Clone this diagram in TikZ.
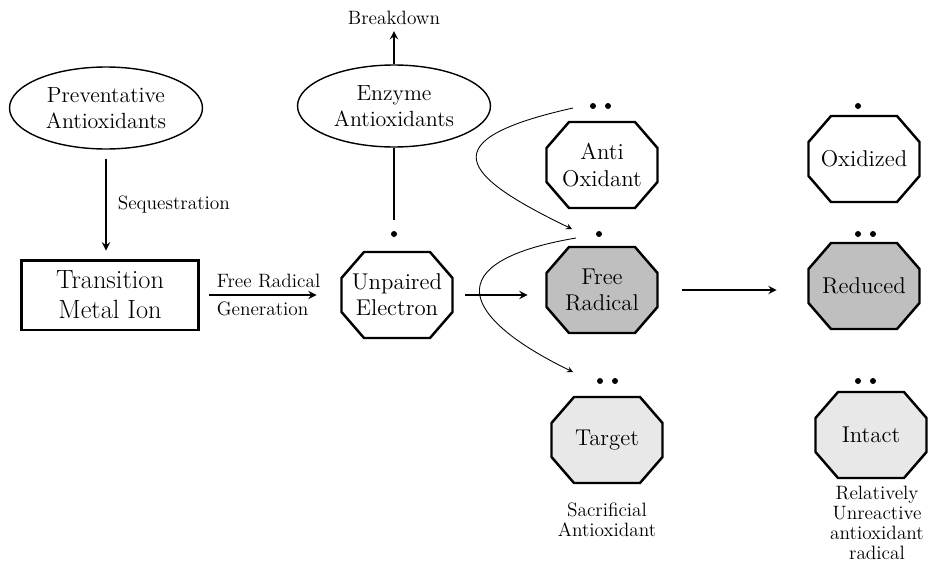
\documentclass[tikz,border=0pt]{standalone}
\usepackage{tikz}
\usetikzlibrary{positioning,arrows,shapes,calc}

\begin{document}
\begin{tikzpicture}[
    x=0.02cm, y=-0.02cm,
    >=stealth,
    oval/.style={ellipse, draw, thick, minimum width=3.86cm, minimum height=1.64cm, inner sep=0pt, align=center, font=\fontsize{12.5}{14.5}\selectfont},
    octa/.style={rectangle, inner sep=0pt, minimum width=2.32cm, minimum height=1.82cm, align=center, font=\fontsize{13}{15}\selectfont,
        path picture={
            \draw[line width=1.4pt, fill=#1]
                ([shift={(0.5cm,-0.05cm)}]path picture bounding box.north west) --
                ([shift={(-0.5cm,-0.05cm)}]path picture bounding box.north east) --
                ([shift={(-0.05cm,-0.57cm)}]path picture bounding box.north east) --
                ([shift={(-0.05cm,0.57cm)}]path picture bounding box.south east) --
                ([shift={(-0.5cm,0.05cm)}]path picture bounding box.south east) --
                ([shift={(0.5cm,0.05cm)}]path picture bounding box.south west) --
                ([shift={(0.05cm,0.57cm)}]path picture bounding box.south west) --
                ([shift={(0.05cm,-0.57cm)}]path picture bounding box.north west) -- cycle;
        }},
    octa/.default=white,
    dot/.style={circle, fill, inner sep=0pt, minimum size=0.12cm},
    lab/.style={font=\fontsize{11}{11.5}\selectfont, align=center},
    arr/.style={->, line width=1.1pt},
    swing/.style={->, line width=0.5pt}
]
    \useasboundingbox (0,0) rectangle (930,561);

    % Left column
    \node[oval] (prev) at (106,108) {Preventative\\Antioxidants};
    \node[draw, line width=1.7pt, minimum width=3.54cm, minimum height=1.4cm, align=center,
          font=\fontsize{15}{17}\selectfont] (tmi) at (110,295) {Transition\\Metal Ion};
    \draw[arr, shorten <=0.18cm, shorten >=0.16cm] (prev.south) -- (prev.south |- tmi.north)
        node[lab, midway, right=0.1cm] (seq) {Sequestration};

    % Enzyme branch
    \node[oval] (enz) at (394,106) {Enzyme\\Antioxidants};
    \node[lab] (brk) at (394,18) {Breakdown};
    \draw[arr] (enz.north) -- (brk.south);

    \node[octa] (ue) at (397,295) {Unpaired\\Electron};
    \node[dot] (ued) at (394,234) {};
    \draw[line width=1.1pt, shorten >=0.22cm] (enz.south) -- (ued.north);

    \draw[arr, shorten <=0.18cm, shorten >=0.44cm] (tmi.east) -- (ue.west)
        node[lab, pos=0, anchor=south west, xshift=0.2cm] (frg1) {Free Radical}
        node[lab, pos=0, anchor=north west, xshift=0.2cm] (frg2) {Generation};

    % Middle column
    \node[octa] (ao) at (602,165) {Anti\\Oxidant};
    \node[dot] (aod1) at (593,106) {};
    \node[dot] (aod2) at (608,106) {};

    \node[octa=black!25] (fr) at (602,290) {Free\\Radical};
    \node[dot] (frd) at (599,234) {};

    \node[octa=black!9] (tg) at (607,440) {Target};
    \node[dot] (tgd1) at (600,381) {};
    \node[dot] (tgd2) at (615,381) {};
    \node[lab] (sac) at (607,520) {Sacrificial\\Antioxidant};

    \draw[arr, shorten <=0.2cm, shorten >=0.32cm] (ue.east) -- (ue.east -| fr.west);

    % Electron swings
    \coordinate (s1a) at (573,108);
    \coordinate (s1b) at (572,229);
    \coordinate (s2a) at (576,238);
    \coordinate (s2b) at (573,372);
    \draw[swing] (s1a) .. controls (430,140) and (460,175) .. (s1b);
    \draw[swing] (s2a) .. controls (435,262) and (462,318) .. (s2b);

    % Right column
    \node[octa] (ox) at (864,159) {Oxidized};
    \node[dot] (oxd) at (858,106) {};

    \node[octa=black!25] (red) at (864,286) {Reduced};
    \node[dot] (redd1) at (858,234) {};
    \node[dot] (redd2) at (873,234) {};

    \node[octa=black!9] (in) at (871,435) {Intact};
    \node[dot] (ind1) at (858,381) {};
    \node[dot] (ind2) at (873,381) {};
    \node[lab] (rua) at (877,523) {Relatively\\Unreactive\\antioxidant\\radical};

    \draw[arr, shorten <=0.44cm, shorten >=0.58cm] (fr.east) -- (fr.east -| red.west);
\end{tikzpicture}
\end{document}
